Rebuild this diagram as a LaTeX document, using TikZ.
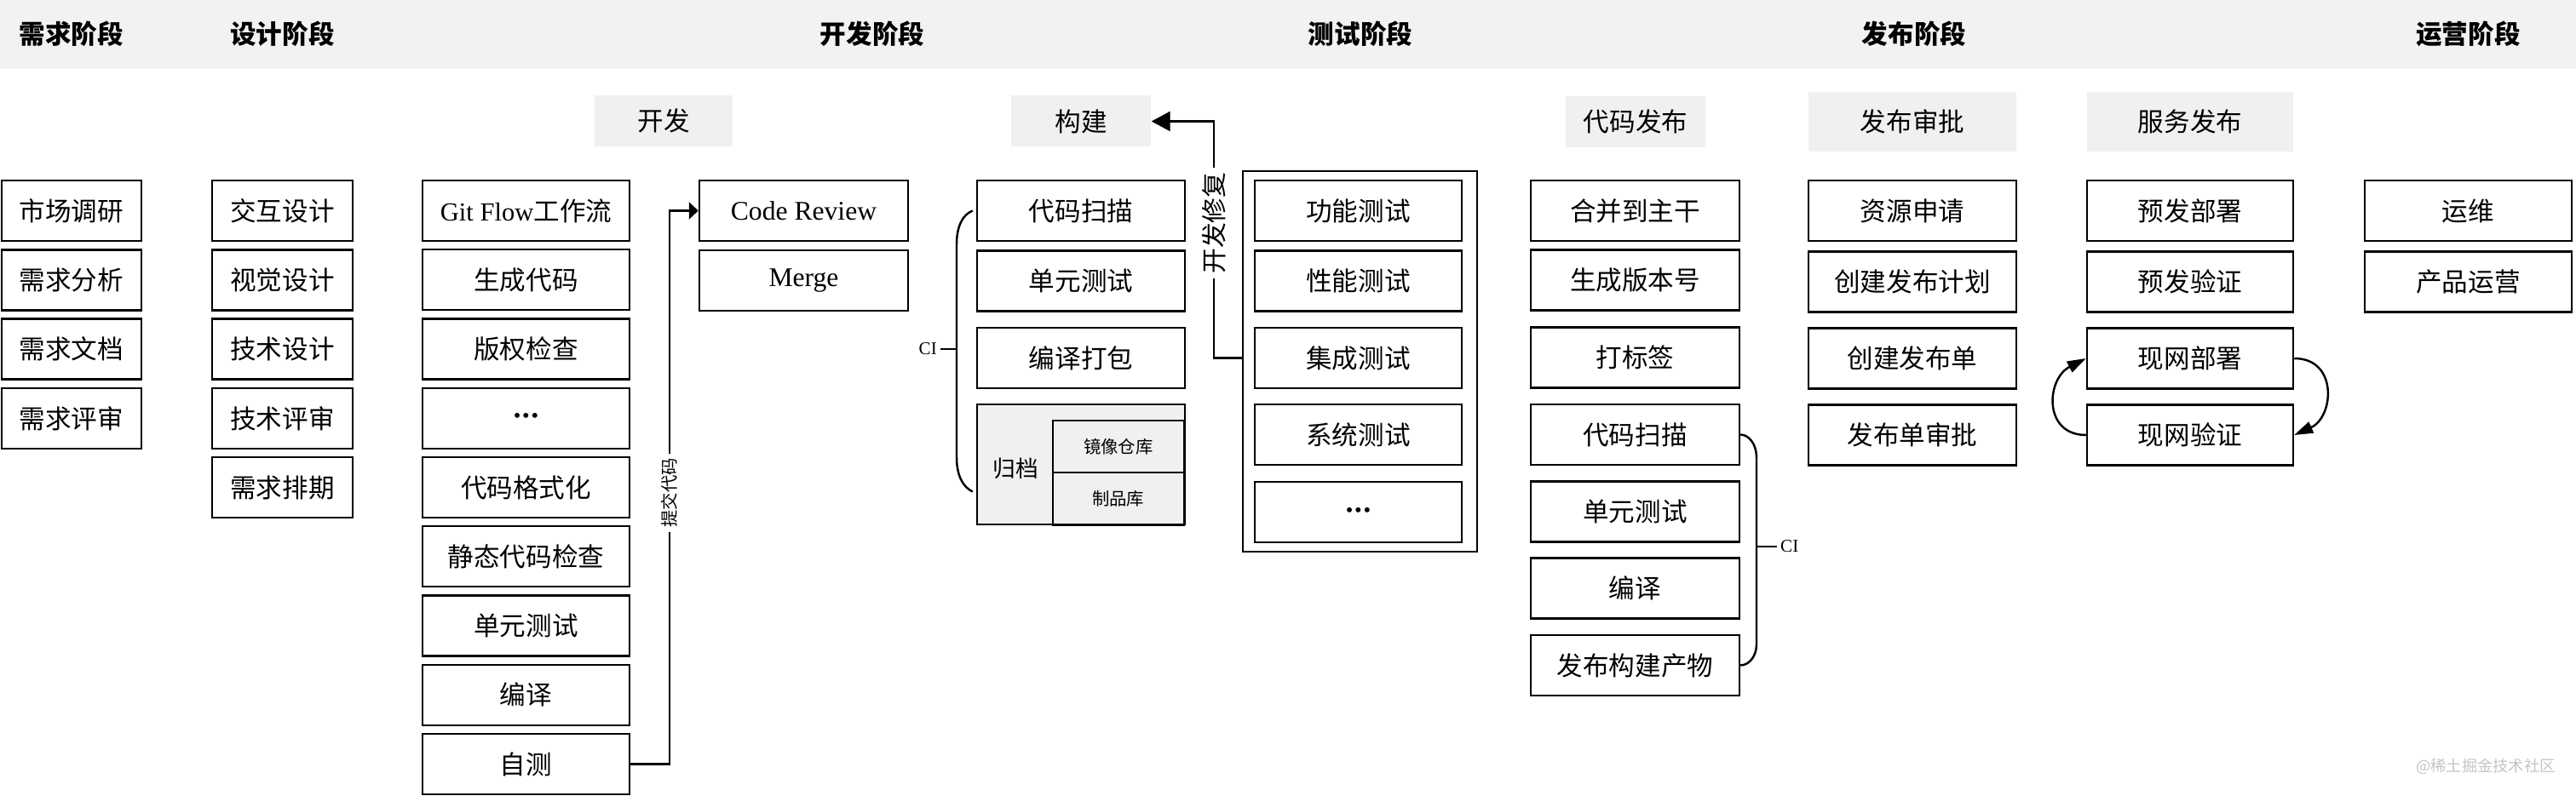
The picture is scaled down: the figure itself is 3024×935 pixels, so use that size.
\documentclass[tikz,border=0pt]{standalone}
\usepackage{fontspec}
\setmainfont{Liberation Serif}
\newfontfamily\cjk{Noto Sans CJK SC}
\usetikzlibrary{arrows.meta, calc}

\definecolor{bandgray}{HTML}{F2F2F2}
\definecolor{tabgray}{HTML}{F0F0F0}
\definecolor{markgray}{HTML}{C4C4C4}

\newcommand{\moredots}{{\rmfamily\fontsize{7}{8}\selectfont •\kern0.5pt•\kern0.5pt•}}

\begin{document}
\begin{tikzpicture}[x=0.1mm, y=-0.1mm,
  task/.style={draw, line width=0.7pt, minimum width=#1, minimum height=7.1mm,
    inner sep=0pt, font=\cjk\fontsize{8.7}{10}\selectfont},
  task/.default=24.3mm,
  tab/.style 2 args={fill=tabgray, minimum width=#1, minimum height=#2,
    inner sep=0pt, font=\cjk\fontsize{8.7}{10}\selectfont},
  phase/.style={font=\cjk\bfseries\fontsize{8.7}{10}\selectfont},
  link/.style={line width=0.7pt},
  vlabel/.style={rotate=90, fill=white, inner sep=1.5pt},
  cilabel/.style={inner sep=1pt, font=\fontsize{6}{7}\selectfont}]

  \useasboundingbox (0,0) rectangle (3024,935);
  % Phase band
  \fill[bandgray] (0,0) rectangle (3024,81);
  \foreach \x/\t [count=\k] in {84/需求阶段, 331.5/设计阶段, 1024/开发阶段,
      1597/测试阶段, 2247/发布阶段, 2897.5/运营阶段}
    \node[phase] (phase\k) at (\x,40) {\t};

  % Sub-stage tabs
  \node[tab={16.2mm}{6mm}] (tabdev) at (779,142) {开发};
  \node[tab={16.4mm}{6mm}] (tabbuild) at (1269,142.5) {构建};
  \node[tab={16.4mm}{6mm}] (tabcode) at (1920,143) {代码发布};
  \node[tab={24.4mm}{7mm}] (tabapprove) at (2245,143) {发布审批};
  \node[tab={24.2mm}{7mm}] (tabdeploy) at (2571,143) {服务发布};

  % Requirements
  \foreach \t [count=\i] in {市场调研, 需求分析, 需求文档, 需求评审}
    \node[task=16.4mm] (req\i) at (84, {247.5+(\i-1)*81.3}) {\t};

  % Design
  \foreach \t [count=\i] in {交互设计, 视觉设计, 技术设计, 技术评审, 需求排期}
    \node[task=16.5mm] (des\i) at (331.5, {247.5+(\i-1)*81.3}) {\t};

  % Development
  \foreach \t [count=\i] in {{{\rmfamily Git Flow}工作流}, 生成代码, 版权检查, \moredots,
      代码格式化, 静态代码检查, 单元测试, 编译, 自测}
    \node[task] (dev\i) at (617.5, {247.5+(\i-1)*81.25}) {\t};
  \node[task=24.5mm, font=\fontsize{9}{10}\selectfont] (review) at (943.5,247.5) {Code Review};
  \node[task=24.5mm, font=\fontsize{9}{10}\selectfont] (merge) at (943.5,329.5) {Merge};

  % Submit code
  \coordinate (submitturn) at (786,0);
  \draw[link, -{Triangle[length=1.1mm, width=2mm]}] (dev9.east) -- (dev9 -| submitturn)
    -- node[vlabel, pos=0.49, font=\cjk\fontsize{5.8}{7}\selectfont] {提交代码}
    (review -| submitturn) -- (review.west);

  % Build
  \foreach \y/\t [count=\i] in {247.5/代码扫描, 330/单元测试, 420.5/编译打包}
    \node[task=24.4mm] (build\i) at (1269,\y) {\t};
  \node[draw, line width=0.7pt, fill=tabgray, minimum width=24.4mm,
    minimum height=14.1mm] (archive) at (1269,545.5) {};
  \node[draw, line width=0.7pt, minimum width=15.4mm, minimum height=6.1mm, anchor=north east,
    font=\cjk\fontsize{5.8}{7}\selectfont] (mirror) at (1391,493) {镜像仓库};
  \node[draw, line width=0.7pt, minimum width=15.4mm, minimum height=6.2mm, anchor=north east,
    font=\cjk\fontsize{5.8}{7}\selectfont] (product) at (1391,554) {制品库};
  \node[font=\cjk\fontsize{7.6}{9}\selectfont] (archlabel) at (1192,550) {归档};

  % CI bracket (build)
  \coordinate (archlow) at ($(archive.west)+(-4,32)$);
  \draw[link] ($(build1.west)+(-4,0)$) .. controls (1130,252) and (1123,266) .. (1123,287)
    -- (1123,537) .. controls (1123,558) and (1130,572) .. (archlow);
  \node[cilabel, anchor=east] (cibuild) at (1104,410) {CI};
  \draw[link] (cibuild.east) -- (1123,410);

  % Test
  \node[draw, line width=0.7pt, minimum width=27.5mm, minimum height=44.7mm] (testgrp) at (1596.5,424.5) {};
  \foreach \y/\t [count=\i] in {247.5/功能测试, 330/性能测试, 420.5/集成测试, 510.5/系统测试, 601.5/\moredots}
    \node[task] (test\i) at (1594.5,\y) {\t};

  % Fix loop back to build
  \coordinate (fixturn) at (1425,0);
  \draw[link, -{Triangle[length=2.2mm, width=2.3mm]}] (testgrp.west |- test3) -- (test3 -| fixturn)
    -- node[vlabel, pos=0.57, font=\cjk\fontsize{8.5}{10}\selectfont] {开发修复}
    (tabbuild -| fixturn) -- (tabbuild.east);

  % Code release
  \foreach \y/\t [count=\i] in {247.5/合并到主干, 329/生成版本号, 420/打标签, 510.5/代码扫描,
      601/单元测试, 691/编译, 781.5/发布构建产物}
    \node[task=24.5mm] (code\i) at (1919.5,\y) {\t};

  % CI bracket (release)
  \draw[link] (code4.east) .. controls (2053,510.5) and (2062,522) .. (2062,537)
    -- (2062,757) .. controls (2062,771) and (2053,781.5) .. (code7.east);
  \node[cilabel, anchor=west] (cicode) at (2086,642) {CI};
  \draw[link] (2062,642) -- (cicode.west);

  % Approval
  \foreach \y/\t [count=\i] in {247.5/资源申请, 331/创建发布计划, 421/创建发布单, 511/发布单审批}
    \node[task=24.4mm] (appr\i) at (2245,\y) {\t};

  % Service deploy
  \foreach \y/\t [count=\i] in {247.5/预发部署, 331/预发验证, 421/现网部署, 511/现网验证}
    \node[task=24.2mm] (dep\i) at (2571,\y) {\t};
  \draw[link, -{Triangle[length=2.2mm, width=1.4mm]}] (dep3.east)
    .. controls (2745,421) and (2740,490) .. (dep4.east);
  \draw[link, -{Triangle[length=2.2mm, width=1.4mm]}] (dep4.west)
    .. controls (2398,511) and (2402,445) .. (dep3.west);

  % Operations
  \foreach \y/\t [count=\i] in {247.5/运维, 331/产品运营}
    \node[task] (ops\i) at (2897.5,\y) {\t};

  \node[text=markgray, font=\cjk\fontsize{5.2}{6}\selectfont] (mark) at (2918,900) {@稀土掘金技术社区};
\end{tikzpicture}
\end{document}
